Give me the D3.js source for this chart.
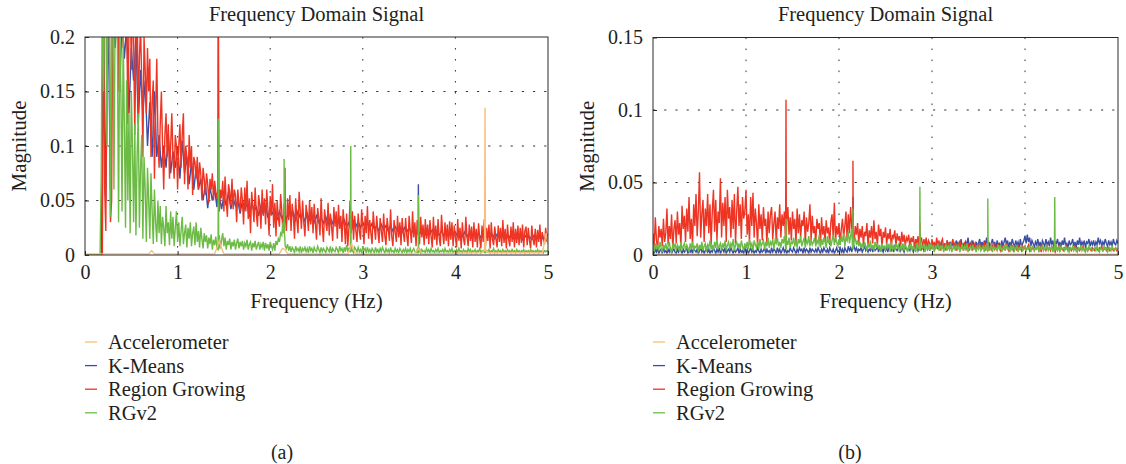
<!DOCTYPE html>
<html><head><meta charset="utf-8">
<script src="https://cdn.jsdelivr.net/npm/d3@7"></script>
<style>
body{margin:0;background:#fff;}
text{font-family:"Liberation Serif","Times New Roman",serif;fill:#231f20;}
</style></head>
<body><svg id="c" width="1126" height="464"></svg>
<script>
// ---------- DATA ----------
const seriesNames = ["Accelerometer", "K-Means", "Region Growing", "RGv2"];
const xTicks = [0, 1, 2, 3, 4, 5];
const yTicksA = [0, 0.05, 0.1, 0.15, 0.2];
const yTicksB = [0, 0.05, 0.1, 0.15];
// FFT bin spacing (Hz) of the sampled spectra; bin i sits at i * step
const fineStep = 0.0125;   // 401 bins, 0..5 Hz
const coarseStep = 0.025;  // 201 bins, 0..5 Hz

// ---- panel (a) ---- (fine bins)
const aRegion = [
0,0,0,0,0,0,0,0,0,0,0,0,0,0,0,0,
.25,.06,.022,.21,.26,.24,.03,.05,.24,.22,.21,.25,.27,.15,.23,.26,.24,.19,.25,.23,
.23,.12,.21,.25,.17,.22,.2,.11,.19,.24,.13,.18,.21,.16,.09,.2,.17,.13,.19,.15,
.18,.09,.14,.16,.07,.13,.18,.11,.08,.12,.15,.1,.06,.11,.13,.09,.12,.07,.1,.13,
.09,.07,.11,.1,.06,.1,.12,.08,.11,.13,.065,.1,.09,.06,.11,.08,.1,.055,.09,.085,
.07,.09,.06,.085,.075,.05,.08,.07,.055,.075,.065,.048,.07,.06,.075,.05,.068,.058,.052,.066,
.04,.06,.052,.068,.04,.072,.05,.035,.065,.058,.045,.07,.042,.06,.055,.03,.06,.048,.04,.062,
.05,.028,.062,.04,.068,.033,.052,.02,.058,.045,.03,.062,.038,.026,.055,.046,.024,.06,.036,.052,
.028,.06,.042,.018,.054,.036,.065,.025,.048,.017,.05,.034,.026,.056,.04,.02,.047,.03,.022,.052,
.032,.055,.022,.047,.036,.015,.052,.033,.02,.058,.04,.024,.05,.03,.017,.046,.036,.022,.05,.028,
.044,.02,.047,.03,.014,.043,.034,.018,.052,.027,.012,.042,.03,.022,.048,.018,.038,.026,.013,.044,
.026,.04,.015,.046,.024,.036,.012,.042,.028,.01,.038,.008,.024,.05,.02,.04,.014,.036,.022,.012,
.038,.022,.014,.042,.028,.01,.036,.02,.045,.015,.032,.02,.01,.04,.026,.014,.036,.022,.011,.034,
.022,.012,.038,.018,.009,.034,.024,.013,.042,.017,.008,.032,.021,.012,.036,.016,.03,.009,.034,.02,
.012,.034,.018,.008,.036,.022,.011,.04,.016,.03,.008,.032,.019,.01,.035,.016,.028,.009,.033,.015,
.028,.01,.032,.017,.007,.035,.014,.027,.009,.033,.016,.008,.037,.02,.01,.03,.013,.028,.008,.031,
.014,.03,.008,.027,.016,.007,.033,.013,.025,.006,.03,.015,.009,.035,.017,.008,.028,.013,.026,.007,
.03,.012,.024,.007,.029,.015,.006,.027,.012,.033,.008,.025,.013,.028,.006,.03,.014,.009,.026,.015,
.007,.027,.012,.025,.008,.032,.011,.024,.006,.028,.014,.008,.026,.012,.03,.007,.024,.011,.027,.009,
.025,.011,.028,.007,.022,.026,.009,.025,.013,.006,.027,.015,.009,.024,.007,.023,.012,.028,.008,.021,
.016,.01,.025,.012,.02];
const aRGv2 = [
0,0,0,0,0,0,0,0,0,0,0,0,0,0,.07,.26,
.15,.26,.24,.1,.27,.25,.035,.2,.26,.06,.22,.25,.19,.03,.21,.15,.04,.2,.12,.025,
.16,.05,.13,.02,.15,.1,.03,.12,.018,.09,.13,.025,.08,.11,.015,.09,.06,.012,.08,.05,
.015,.075,.04,.01,.06,.03,.012,.05,.02,.045,.01,.035,.025,.008,.045,.02,.03,.009,.04,.015,
.035,.008,.025,.04,.012,.03,.008,.022,.035,.01,.02,.028,.007,.025,.015,.03,.008,.02,.026,.009,
.03,.012,.022,.007,.025,.015,.006,.02,.012,.018,.006,.016,.01,.019,.005,.014,.009,.017,.006,.012,
.018,.006,.014,.02,.008,.016,.005,.013,.009,.015,.005,.012,.008,.014,.005,.011,.015,.006,.012,.008,
.013,.005,.011,.008,.014,.005,.01,.012,.004,.011,.007,.013,.005,.009,.012,.005,.01,.007,.012,.004,
.011,.006,.01,.004,.012,.008,.005,.011,.004,.013,.009,.015,.012,.02,.018,.03,.025,.008,.006,.01,
.004,.008,.003,.007,.005,.002,.008,.004,.006,.003,.008,.002,.006,.004,.007,.003,.006,.002,.008,.004,
.006,.002,.007,.004,.003,.008,.005,.002,.007,.003,.006,.004,.002,.007,.005,.003,.008,.002,.006,.004,
.003,.007,.005,.002,.008,.004,.006,.002,.007,.003,.009,.004,.006,.003,.008,.004,.002,.007,.005,.003,
.007,.003,.005,.002,.008,.004,.006,.002,.007,.003,.005,.002,.006,.004,.002,.007,.003,.005,.002,.006,
.003,.007,.004,.002,.006,.003,.005,.002,.007,.003,.004,.002,.006,.003,.005,.002,.006,.004,.002,.005,
.003,.006,.002,.005,.003,.006,.002,.004,.006,.003,.002,.005,.003,.006,.002,.005,.003,.004,.002,.006,
.003,.005,.002,.006,.003,.004,.002,.005,.003,.006,.002,.004,.003,.005,.002,.006,.003,.004,.002,.005,
.003,.006,.002,.004,.003,.005,.002,.006,.003,.004,.002,.005,.003,.004,.002,.006,.003,.005,.002,.004,
.003,.005,.002,.004,.003,.006,.002,.004,.003,.005,.002,.004,.003,.005,.002,.004,.003,.006,.002,.004,
.002,.005,.003,.004,.002,.005,.003,.004,.002,.005,.003,.004,.002,.005,.003,.004,.002,.005,.003,.004,
.002,.004,.003,.005,.002,.004,.003,.004,.002,.005,.003,.004,.002,.004,.003,.005,.002,.004,.003,.004,
.002,.004,.003,.004,.003];
// (coarse bins) – mostly hidden under Region Growing
const aKMeans = [
0,0,0,0,0,0,0,0,.22,.05,.23,.06,.22,.19,.23,.15,.22,.18,.21,.13,
.19,.16,.2,.12,.17,.13,.16,.1,.14,.09,.15,.09,.11,.08,.1,.08,.11,.075,.095,.08,
.1,.07,.105,.075,.09,.065,.085,.06,.08,.06,.07,.05,.065,.043,.062,.05,.06,.044,.055,.042,
.055,.045,.058,.042,.052,.045,.05,.038,.05,.042,.047,.035,.048,.04,.044,.036,.045,.038,.046,.034,
.043,.038,.042,.032,.04,.034,.037,.033,.04,.034,.039,.032,.04,.034,.037,.031,.038,.032,.036,.03,
.036,.03,.034,.029,.035,.028,.034,.029,.034,.028,.033,.027,.032,.026,.03,.022,.031,.026,.031,.025,
.03,.025,.03,.024,.029,.024,.027,.022,.028,.023,.027,.022,.027,.022,.026,.022,.026,.021,.025,.021,
.025,.02,.024,.019,.023,.02,.024,.019,.023,.019,.023,.019,.022,.018,.022,.018,.021,.017,.022,.018,
.021,.017,.021,.017,.021,.017,.02,.016,.02,.016,.02,.016,.019,.016,.02,.016,.019,.015,.019,.016,
.019,.015,.018,.015,.019,.015,.018,.015,.017,.014,.018,.015,.017,.014,.018,.015,.017,.014,.016,.014,
.015];
// narrow spectral peaks: [frequency, magnitude]
const aRegionPeaks = [[1.436,.06],[1.44,.26],[1.444,.06],[2.156,.035],[2.16,.08],[2.164,.035]];
const aKMeansPeaks = [[1.436,.06],[1.44,.2],[1.444,.06],[3.596,.02],[3.6,.065],[3.604,.02],[4.316,.018],[4.32,.05],[4.324,.018]];
const aRGv2Peaks = [[1.436,.005],[1.44,.125],[1.444,.005],[2.146,.02],[2.15,.088],[2.154,.02],[2.866,.003],[2.87,.1],[2.874,.003],[3.596,.002],[3.6,.055],[3.604,.002],[4.316,.002],[4.32,.045],[4.324,.002]];
const aAccelFreq = [0,.69,.72,.75,1.4,1.43,1.45,1.47,1.5,2.1,2.13,2.16,2.19,2.84,2.88,2.92,3.56,3.6,3.64,4.28,4.315,4.32,4.325,4.36,4.94,4.98,5];
const aAccelVal  = [.001,.001,.004,.001,.001,.008,.013,.007,.001,.001,.006,.005,.001,.001,.01,.001,.001,.006,.001,.002,.004,.135,.004,.002,.002,.02,.01];

// ---- panel (b) ---- (fine bins)
const bRegion = [
.015,.005,.026,.01,.004,.02,.012,.018,.006,.025,.009,.015,.032,.007,.02,.011,.028,.004,.018,.024,
.008,.03,.014,.022,.005,.034,.018,.027,.009,.032,.016,.04,.011,.025,.006,.035,.02,.042,.013,.03,
.057,.012,.028,.038,.009,.032,.02,.042,.015,.035,.007,.03,.045,.016,.038,.01,.03,.022,.053,.012,
.036,.02,.04,.009,.045,.025,.033,.012,.038,.018,.042,.008,.03,.047,.02,.035,.011,.04,.025,.03,
.045,.014,.028,.008,.04,.02,.043,.012,.032,.022,.006,.035,.018,.028,.01,.033,.02,.025,.007,.03,
.015,.028,.033,.011,.022,.03,.008,.026,.018,.035,.012,.028,.02,.03,.009,.024,.033,.014,.026,.01,
.03,.018,.025,.008,.032,.015,.028,.012,.024,.02,.03,.007,.026,.016,.022,.035,.01,.027,.015,.02,
.008,.025,.018,.022,.006,.026,.014,.02,.009,.024,.015,.019,.007,.023,.028,.012,.036,.009,.02,.014,
.022,.007,.018,.025,.012,.02,.03,.01,.028,.015,.033,.018,.025,.009,.02,.014,.022,.008,.018,.012,
.02,.007,.016,.013,.022,.006,.017,.012,.02,.008,.024,.011,.016,.006,.021,.013,.018,.005,.016,.012,
.019,.007,.015,.011,.018,.005,.014,.012,.017,.006,.015,.01,.013,.005,.016,.009,.014,.006,.012,.01,
.014,.005,.012,.009,.013,.004,.011,.008,.013,.005,.01,.012,.004,.011,.007,.012,.005,.01,.008,.004,
.011,.006,.009,.004,.012,.007,.01,.003,.009,.011,.005,.008,.003,.01,.006,.009,.004,.008,.011,.005,
.009,.003,.008,.006,.01,.004,.008,.003,.009,.006,.004,.008,.003,.007,.009,.004,.006,.008,.003,.007,
.005,.008,.003,.007,.004,.009,.003,.006,.008,.004,.007,.003,.006,.008,.004,.006,.003,.007,.005,.003,
.007,.004,.006,.003,.008,.005,.003,.006,.004,.007,.003,.005,.006,.003,.007,.004,.005,.003,.006,.004,
.006,.003,.005,.007,.003,.005,.004,.006,.003,.005,.004,.006,.003,.005,.002,.006,.004,.005,.003,.006,
.004,.005,.003,.006,.004,.005,.002,.005,.004,.006,.003,.005,.004,.003,.005,.004,.006,.003,.005,.004,
.003,.005,.004,.006,.003,.005,.004,.003,.005,.004,.006,.003,.004,.005,.003,.005,.004,.003,.005,.004,
.003,.005,.004,.003,.005,.004,.006,.003,.004,.005,.003,.004,.005,.003,.004,.005,.003,.004,.005,.003,
.004];
const bKMeans = [
.003,.001,.004,.002,.005,.001,.003,.004,.001,.005,.002,.003,.001,.004,.002,.005,.001,.003,.004,.002,
.001,.004,.002,.005,.003,.001,.004,.002,.003,.005,.001,.003,.002,.004,.001,.005,.003,.002,.004,.001,
.003,.005,.002,.004,.001,.003,.005,.002,.004,.001,.003,.002,.005,.003,.001,.004,.002,.005,.001,.003,
.004,.002,.005,.001,.003,.004,.002,.005,.003,.001,.004,.002,.003,.005,.001,.004,.002,.003,.001,.005,
.002,.004,.001,.003,.005,.002,.004,.001,.003,.002,.005,.003,.001,.004,.002,.003,.005,.001,.004,.002,
.003,.001,.005,.002,.004,.003,.001,.005,.002,.004,.001,.003,.005,.002,.004,.001,.003,.002,.005,.003,
.002,.005,.003,.001,.004,.002,.005,.003,.004,.001,.005,.002,.004,.003,.001,.005,.002,.004,.003,.002,
.004,.002,.005,.003,.001,.004,.002,.005,.003,.002,.004,.001,.005,.003,.002,.004,.001,.003,.005,.002,
.003,.005,.002,.004,.001,.005,.003,.002,.006,.003,.005,.002,.004,.006,.003,.005,.002,.004,.003,.005,
.002,.004,.006,.003,.005,.002,.004,.003,.006,.002,.005,.003,.004,.006,.002,.005,.003,.004,.002,.006,
.003,.005,.002,.006,.004,.003,.005,.002,.006,.004,.003,.005,.007,.003,.005,.004,.002,.006,.004,.003,
.005,.003,.007,.004,.002,.006,.004,.008,.003,.005,.007,.004,.006,.003,.005,.008,.004,.006,.003,.007,
.005,.008,.004,.006,.009,.004,.007,.005,.009,.006,.004,.008,.005,.01,.006,.004,.008,.006,.009,.005,
.007,.01,.005,.008,.006,.011,.005,.008,.004,.009,.007,.012,.006,.008,.005,.01,.007,.005,.009,.006,
.008,.011,.006,.009,.005,.01,.007,.012,.006,.009,.005,.008,.011,.006,.009,.004,.01,.007,.008,.005,
.01,.006,.009,.012,.007,.01,.005,.009,.006,.011,.008,.005,.01,.007,.009,.005,.011,.006,.008,.01,
.013,.008,.014,.009,.012,.006,.01,.008,.005,.009,.007,.011,.006,.009,.005,.01,.008,.006,.011,.007,
.009,.006,.012,.007,.01,.005,.009,.008,.011,.006,.009,.005,.01,.007,.012,.006,.008,.005,.01,.007,
.008,.011,.006,.009,.005,.01,.007,.012,.006,.009,.007,.01,.005,.009,.008,.011,.006,.009,.007,.01,
.006,.009,.007,.012,.008,.01,.006,.009,.007,.011,.008,.006,.01,.007,.009,.006,.011,.008,.007,.01,
.008];
const bRGv2 = [
.006,.002,.008,.004,.007,.003,.009,.005,.002,.007,.004,.008,.003,.006,.009,.004,.002,.007,.005,.008,
.003,.007,.005,.002,.009,.004,.006,.008,.003,.007,.005,.002,.008,.004,.009,.003,.006,.005,.008,.002,
.007,.004,.009,.003,.006,.008,.002,.007,.005,.01,.004,.007,.003,.009,.005,.011,.004,.006,.008,.003,
.008,.005,.01,.003,.007,.009,.004,.008,.006,.011,.003,.007,.009,.005,.008,.004,.01,.006,.003,.008,
.005,.009,.004,.011,.006,.008,.003,.01,.007,.005,.009,.004,.011,.006,.008,.01,.004,.009,.006,.012,
.005,.009,.007,.011,.004,.01,.008,.012,.006,.009,.005,.011,.008,.013,.006,.01,.007,.012,.005,.009,
.008,.012,.006,.01,.005,.011,.008,.013,.006,.009,.012,.005,.01,.008,.013,.006,.011,.007,.009,.012,
.006,.01,.008,.014,.005,.011,.007,.012,.009,.005,.013,.008,.011,.006,.01,.014,.007,.012,.009,.006,
.011,.007,.013,.009,.015,.006,.012,.01,.016,.008,.013,.018,.014,.009,.012,.007,.01,.006,.009,.005,
.008,.004,.009,.006,.003,.008,.005,.01,.004,.007,.003,.009,.005,.008,.004,.007,.002,.008,.005,.006,
.003,.008,.005,.007,.002,.009,.004,.006,.003,.008,.005,.007,.002,.006,.004,.008,.003,.007,.005,.002,
.007,.004,.008,.003,.006,.005,.002,.008,.004,.007,.003,.006,.005,.008,.002,.007,.004,.006,.003,.008,
.004,.007,.002,.006,.005,.008,.003,.006,.004,.007,.002,.005,.007,.003,.006,.004,.008,.002,.005,.006,
.003,.007,.004,.006,.002,.005,.007,.003,.006,.004,.008,.002,.005,.006,.003,.007,.004,.005,.002,.006,
.004,.007,.003,.005,.006,.002,.007,.004,.006,.003,.005,.007,.002,.006,.004,.005,.003,.007,.004,.006,
.002,.005,.006,.003,.007,.004,.005,.002,.006,.004,.007,.003,.005,.006,.002,.005,.004,.006,.003,.005,
.006,.003,.005,.004,.007,.002,.005,.006,.003,.005,.004,.006,.002,.005,.004,.007,.003,.005,.004,.006,
.003,.005,.004,.006,.002,.005,.004,.006,.003,.005,.002,.006,.004,.005,.003,.006,.004,.005,.002,.005,
.004,.006,.003,.005,.004,.002,.005,.004,.006,.003,.005,.004,.002,.005,.003,.006,.004,.005,.003,.004,
.005,.003,.006,.004,.002,.005,.004,.003,.006,.004,.005,.002,.004,.005,.003,.006,.004,.003,.005,.004,
.004];
const bRegionPeaks = [[1.426,.01],[1.43,.107],[1.434,.01],[2.146,.012],[2.15,.065],[2.154,.012],[2.866,.004],[2.87,.022],[2.874,.004]];
const bKMeansPeaks = [[2.146,.005],[2.15,.04],[2.154,.005]];
const bRGv2Peaks = [[1.426,.004],[1.43,.025],[1.434,.004],[2.146,.004],[2.15,.032],[2.154,.004],[2.866,.003],[2.87,.047],[2.874,.003],[3.596,.003],[3.6,.039],[3.604,.003],[4.316,.003],[4.32,.04],[4.324,.003]];
const bAccelFreq = [0, 5];
const bAccelVal  = [.0006, .0006];

// ---------- DRAW ----------
const colors = {"Accelerometer":"#fbbd7a","K-Means":"#3a4ea3","Region Growing":"#ee3524","RGv2":"#6cbb45"};
function binned(vals, step, peaks){
  const pts = vals.map((v,i)=>[i*step, v]).concat(peaks||[]);
  pts.sort((a,b)=>a[0]-b[0]);
  return pts;
}
function paired(freq, vals){ return freq.map((f,i)=>[f, vals[i]]); }
const panels = [
  {x0:85, x1:548, y0:37, y1:255, ymax:0.2, yTicks:yTicksA, tag:"(a)",
   series:[
     {name:"K-Means", pts:binned(aKMeans, coarseStep, aKMeansPeaks)},
     {name:"Region Growing", pts:binned(aRegion, fineStep, aRegionPeaks)},
     {name:"RGv2", pts:binned(aRGv2, fineStep, aRGv2Peaks)},
     {name:"Accelerometer", pts:paired(aAccelFreq, aAccelVal)}
   ]},
  {x0:653, x1:1118, y0:37.5, y1:255, ymax:0.15, yTicks:yTicksB, tag:"(b)",
   series:[
     {name:"K-Means", pts:binned(bKMeans, fineStep, bKMeansPeaks)},
     {name:"Region Growing", pts:binned(bRegion, fineStep, bRegionPeaks)},
     {name:"RGv2", pts:binned(bRGv2, fineStep, bRGv2Peaks)},
     {name:"Accelerometer", pts:paired(bAccelFreq, bAccelVal)}
   ]}
];
const svg = d3.select("#c");
panels.forEach((p, pi) => {
  const x = d3.scaleLinear().domain([0,5]).range([p.x0, p.x1]);
  const y = d3.scaleLinear().domain([0,p.ymax]).range([p.y1, p.y0]);
  const g = svg.append("g");
  const cid = "clip"+pi;
  svg.append("defs").append("clipPath").attr("id", cid).append("rect")
    .attr("x", p.x0).attr("y", p.y0).attr("width", p.x1-p.x0).attr("height", p.y1-p.y0);
  // grid
  g.selectAll(".vg").data(xTicks.slice(1,-1)).join("line")
    .attr("x1", d=>x(d)).attr("x2", d=>x(d)).attr("y1", p.y0).attr("y2", p.y1)
    .attr("stroke","#333").attr("stroke-width",1).attr("stroke-dasharray","1.6,9.4");
  g.selectAll(".hg").data(p.yTicks.slice(1,-1)).join("line")
    .attr("y1", d=>y(d)).attr("y2", d=>y(d)).attr("x1", p.x0).attr("x2", p.x1)
    .attr("stroke","#333").attr("stroke-width",1).attr("stroke-dasharray","2.2,9");
  // series
  const line = d3.line().x(d=>x(d[0])).y(d=>y(d[1]));
  const sg = g.append("g").attr("clip-path", `url(#${cid})`);
  p.series.forEach(s => {
    sg.append("path").attr("d", line(s.pts)).attr("fill","none")
      .attr("stroke", colors[s.name]).attr("stroke-width", 1.4).attr("stroke-linejoin","miter");
  });
  // frame
  g.append("rect").attr("x", p.x0).attr("y", p.y0).attr("width", p.x1-p.x0).attr("height", p.y1-p.y0)
    .attr("fill","none").attr("stroke","#2a2a2a").attr("stroke-width",1);
  // axes
  const xa = d3.axisBottom(x).tickValues(xTicks).tickSize(-4).tickPadding(10).tickFormat(d3.format("d"));
  const ya = d3.axisLeft(y).tickValues(p.yTicks).tickSize(-4).tickPadding(10).tickFormat(d=>String(d));
  const gx = g.append("g").attr("transform",`translate(0,${p.y1})`).call(xa);
  const gy = g.append("g").attr("transform",`translate(${p.x0},0)`).call(ya);
  [gx, gy].forEach(a => {
    a.select(".domain").remove();
    a.selectAll(".tick line").attr("stroke","#2a2a2a");
    a.selectAll("text").style("font-size","20px").style("font-family",'"Liberation Serif",serif').attr("fill","#231f20");
  });
  // titles
  const cx = (p.x0+p.x1)/2;
  g.append("text").attr("x", cx).attr("y", 21).attr("text-anchor","middle").style("font-size","20.5px").text("Frequency Domain Signal");
  g.append("text").attr("x", cx).attr("y", 308).attr("text-anchor","middle").style("font-size","21px").text("Frequency (Hz)");
  g.append("text").attr("transform",`translate(${p.x0-59},${(p.y0+p.y1)/2}) rotate(-90)`)
    .attr("text-anchor","middle").style("font-size","21px").text("Magnitude");
  // legend
  seriesNames.forEach((n, i) => {
    const ly = 342 + i*23.6;
    g.append("line").attr("x1", p.x0).attr("x2", p.x0+12).attr("y1", ly).attr("y2", ly)
      .attr("stroke", colors[n]).attr("stroke-width", 1.3);
    g.append("text").attr("x", p.x0+23).attr("y", ly+7).style("font-size","20.5px").text(n);
  });
  g.append("text").attr("x", p.x0+197).attr("y", 459).attr("text-anchor","middle").style("font-size","20px").text(p.tag);
});
</script></body></html>
